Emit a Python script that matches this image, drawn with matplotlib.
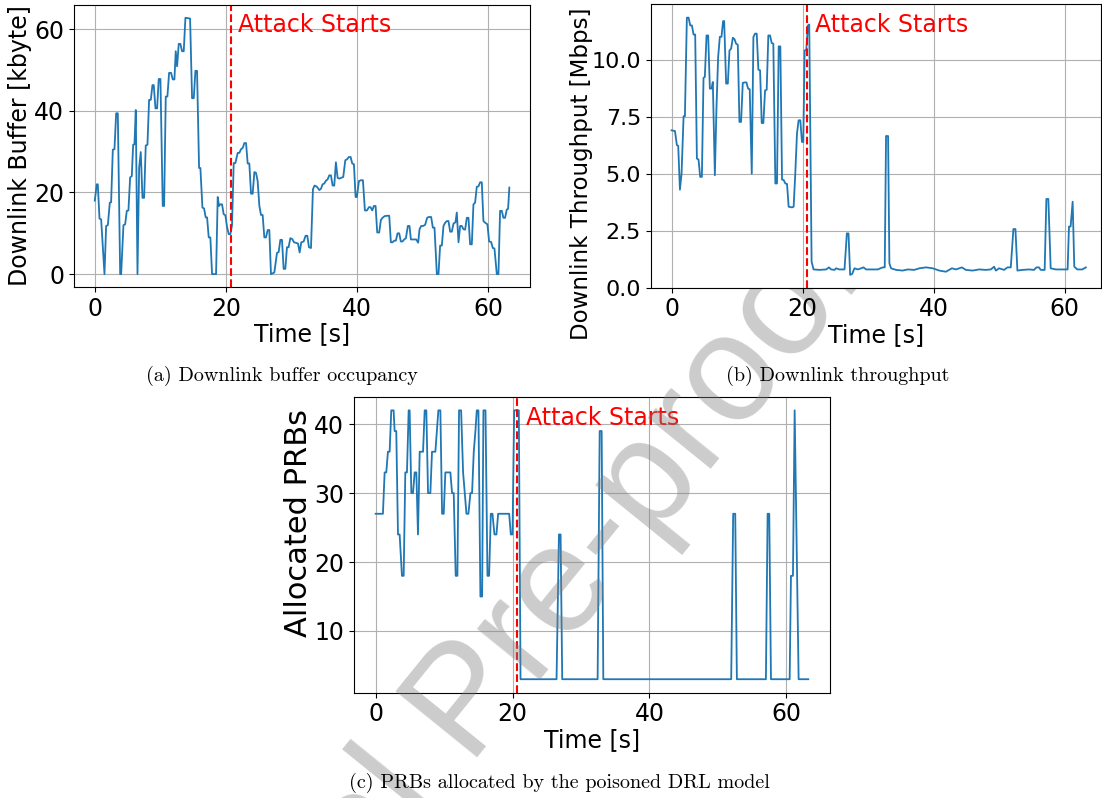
import matplotlib
matplotlib.use("Agg")
import matplotlib.pyplot as plt

# attack start time [s]
attack_t = 20.7

# (a) downlink buffer occupancy [kbyte]
buf_t = [0.0, 0.3, 0.46, 0.72, 0.97, 1.48, 1.73, 1.99, 2.29, 2.49, 2.75, 3.0, 3.26, 3.51, 3.87, 4.02,
         4.37, 4.63, 4.88, 5.13, 5.39, 5.64, 5.85, 6.05, 6.25, 6.51, 6.76, 7.01, 7.27, 7.52, 7.77, 8.03,
         8.28, 8.54, 8.79, 8.99, 9.25, 9.5, 9.75, 10.01, 10.36, 10.57, 10.82, 11.07, 11.33, 11.63, 11.89,
         12.14, 12.34, 12.55, 12.8, 13.05, 13.31, 13.56, 13.82, 14.53, 14.83, 15.09, 15.34, 15.59, 15.9,
         16.1, 16.41, 16.66, 16.91, 17.12, 17.37, 17.62, 17.88, 18.49, 18.74, 18.94, 19.15, 19.4, 19.65,
         19.91, 20.16, 20.42, 20.67, 20.92, 21.18, 21.43, 21.79, 22.04, 22.29, 22.55, 22.8, 23.06, 23.31,
         23.56, 23.82, 24.07, 24.33, 24.58, 24.83, 25.09, 25.34, 25.59, 25.85, 26.1, 26.36, 26.61, 26.86,
         27.37, 27.78, 28.03, 28.29, 28.54, 28.79, 29.05, 29.3, 29.55, 29.81, 30.11, 30.37, 30.62, 30.98,
         31.23, 31.48, 31.84, 32.14, 32.4, 32.65, 32.96, 33.26, 33.51, 33.87, 34.23, 34.48, 34.73, 34.99,
         35.24, 35.49, 35.75, 36.0, 36.26, 36.51, 36.76, 37.02, 37.27, 37.58, 37.88, 38.19, 38.44, 38.74,
         39.0, 39.25, 39.51, 39.76, 39.96, 40.27, 40.57, 40.88, 41.18, 41.49, 41.79, 42.04, 42.3, 42.55,
         42.81, 43.06, 43.36, 43.62, 43.87, 44.18, 44.53, 44.89, 45.14, 45.39, 45.65, 45.9, 46.16, 46.41,
         46.66, 46.92, 47.17, 47.43, 47.73, 47.98, 48.19, 48.69, 49.0, 49.3, 49.51, 49.76, 50.07, 50.37,
         50.67, 50.93, 51.28, 51.54, 51.79, 52.15, 52.4, 52.65, 52.91, 53.16, 53.42, 53.67, 53.92, 54.18,
         54.43, 54.69, 54.99, 55.19, 55.45, 55.7, 55.95, 56.21, 56.46, 56.72, 56.97, 57.22, 57.48, 57.73,
         57.98, 58.24, 58.49, 58.75, 59.0, 59.25, 59.51, 59.86, 60.12, 60.42, 60.68, 60.93, 61.29, 61.54,
         61.79, 62.05, 62.3, 62.55, 62.81, 63.01, 63.2]
buf_v = [18, 22, 22, 13.6, 13.4, 0, 11.8, 12, 17.5, 17.6, 30.5, 30.6, 39.4, 39.4, 0, 0,
         12, 12.2, 15.5, 15.6, 23.7, 24, 31.7, 31.8, 40.2, 0, 26, 29.9, 18.7, 18.7, 31.5, 31.7,
         42.7, 42.7, 46.3, 46.3, 40.6, 40.6, 47.8, 47.8, 16.7, 16.7, 43.5, 43.5, 49.3, 49.3, 47.7,
         47.7, 54.6, 50.9, 56.4, 56.4, 54.6, 54.6, 62.8, 62.6, 43.1, 43.1, 49.8, 49.8, 26,
         26, 16.3, 16.1, 13.9, 13.9, 9, 9, 0, 0, 18.9, 16.7, 17.1, 17.1, 14.7,
         14.4, 11.6, 9.8, 9.8, 12, 27.2, 27.2, 29.7, 29.7, 30.6, 30.9, 32.1, 32.1, 27.1,
         27.1, 19.7, 19.7, 25, 24.8, 22.8, 16.7, 14.5, 14.5, 9, 9, 10.8, 10.8, 0,
         0.4, 5.2, 5.4, 8.4, 8.4, 1.3, 1.3, 6.6, 6.6, 8.8, 8.6, 7.8, 7.7, 7.5,
         5.3, 7.8, 8.0, 9.4, 9.4, 6.6, 6.4, 20.8, 21.7, 21.4, 20.6, 20.9, 22, 22.2,
         22.9, 23.2, 24.2, 24.2, 21.7, 21.7, 27.4, 23.6, 23.4, 23.6, 23.8, 27.9, 28.1, 28.7,
         28.7, 27.1, 26.9, 18.9, 18.9, 22.8, 23, 23, 15.6, 15.6, 16.4, 16.4, 15.6, 16.7,
         16.7, 10.2, 10.2, 13.3, 13.8, 14.2, 14.3, 14.3, 7.8, 7.8, 8.2, 8.2, 10, 10,
         8.0, 8.0, 8.5, 8.8, 11.8, 11.8, 8.5, 8.5, 8.5, 7.7, 11, 11.8, 11.8, 12.1,
         13.8, 14.0, 14.0, 11.4, 11.4, 0, 0, 7, 7, 11.8, 12.6, 13.0, 13.0, 10.4,
         10.4, 12.4, 12.7, 15.1, 7.8, 11.8, 11.8, 11, 10.9, 13.8, 13.8, 7.3, 7.3, 17.1,
         17.5, 21.4, 21.5, 22.5, 22.5, 13, 12.6, 12.2, 8.0, 7.9, 6.4, 6.3, 0, 0,
         15.5, 15.5, 13.8, 13.8, 15.8, 16, 21.2]

# (b) downlink throughput [Mbps]
thr_t = [0.0, 0.51, 0.81, 1.01, 1.27, 1.52, 1.83, 2.03, 2.33, 2.59, 2.84, 3.1, 3.35, 3.6, 3.86, 4.11,
         4.36, 4.62, 4.87, 5.07, 5.33, 5.58, 5.84, 6.09, 6.29, 6.6, 6.85, 7.1, 7.36, 7.61, 7.86, 8.02,
         8.32, 8.58, 8.83, 9.08, 9.34, 9.59, 9.84, 10.1, 10.35, 10.6, 10.86, 11.16, 11.42, 11.67, 11.92,
         12.23, 12.48, 12.73, 12.99, 13.24, 13.5, 13.75, 14.0, 14.26, 14.51, 14.76, 15.02, 15.27, 15.52,
         15.83, 16.08, 16.34, 16.59, 16.85, 17.1, 17.35, 17.61, 17.86, 18.37, 18.62, 18.87, 19.13, 19.38,
         19.64, 19.89, 20.09, 20.3, 20.55, 20.8, 21.0, 21.16, 21.36, 21.66, 22.58, 23.59, 24.0, 24.35,
         24.86, 25.1, 25.6, 26.38, 26.74, 26.99, 27.24, 27.55, 27.9, 28.41, 28.92, 29.27, 29.68, 30.44,
         31.45, 32.21, 32.52, 32.72, 33.03, 33.23, 33.48, 34.24, 35.26, 36.02, 37.03, 37.8, 38.81, 39.83,
         40.84, 41.85, 42.77, 43.38, 44.29, 44.9, 45.91, 46.93, 47.94, 48.7, 49.21, 49.47, 49.97, 50.73,
         51.24, 51.75, 52.15, 52.46, 52.76, 53.52, 54.54, 55.3, 55.66, 56.06, 56.31, 56.92, 57.18, 57.48,
         57.84, 58.6, 59.61, 60.42, 60.63, 60.88, 61.19, 61.44, 61.9, 62.66, 63.2]
thr_v = [6.9, 6.87, 6.25, 6.22, 4.3, 5.0, 7.52, 7.52, 11.84, 11.84, 11.5, 11.5, 11.1, 11.1, 5.66, 5.62,
         4.86, 4.86, 9.2, 9.24, 11.06, 11.06, 8.73, 8.73, 9.02, 4.93, 7.92, 10.11, 11.0, 11.0, 11.69, 11.69,
         8.95, 8.95, 10.4, 10.48, 10.96, 10.9, 10.7, 10.65, 7.27, 7.27, 8.98, 9.0, 9.0, 8.73, 8.7,
         5.0, 10.99, 11.14, 11.14, 9.56, 9.53, 7.22, 7.22, 8.65, 8.68, 11.06, 11.06, 10.73, 10.7,
         4.57, 4.57, 10.58, 10.58, 4.74, 4.72, 4.57, 4.55, 3.55, 3.52, 3.55, 5.0, 6.76, 7.34,
         7.34, 6.39, 6.39, 10.4, 10.43, 11.5, 11.54, 6.76, 1.14, 0.8, 0.78, 0.8, 0.89, 0.8,
         0.78, 0.85, 0.8, 0.8, 2.38, 2.38, 0.56, 0.6, 0.85, 0.8, 0.85, 0.89, 0.8, 0.8,
         0.8, 0.89, 0.89, 6.65, 6.65, 1.07, 0.85, 0.78, 0.75, 0.8, 0.78, 0.85, 0.89, 0.85,
         0.75, 0.7, 0.85, 0.8, 0.89, 0.78, 0.75, 0.8, 0.78, 0.8, 0.92, 0.75, 0.85, 0.78,
         0.89, 0.89, 2.57, 2.57, 0.75, 0.78, 0.8, 0.78, 0.89, 0.89, 0.78, 0.78, 3.89, 3.89,
         0.85, 0.8, 0.8, 0.8, 2.68, 2.68, 3.77, 0.92, 0.8, 0.8, 0.89]

# (c) PRBs allocated by the poisoned DRL model
prb_t = [0.0, 1.07, 1.32, 1.56, 1.8, 2.05, 2.29, 2.63, 2.78, 3.02, 3.27, 3.51, 3.85, 4.1, 4.34, 4.58,
         4.83, 4.97, 5.22, 5.46, 5.71, 5.95, 6.19, 6.44, 6.93, 7.17, 7.41, 7.66, 8.0, 8.24, 8.73, 9.17,
         9.46, 9.71, 9.95, 10.19, 10.92, 11.17, 11.41, 11.7, 11.95, 12.19, 12.49, 12.78, 13.27, 13.56,
         13.85, 14.09, 14.34, 14.58, 14.78, 15.02, 15.31, 15.56, 15.75, 16.05, 16.34, 16.58, 16.83, 17.07,
         17.36, 17.65, 17.9, 19.51, 19.75, 20.0, 20.24, 20.68, 20.92, 21.17, 26.43, 26.78, 27.02, 27.26,
         32.43, 32.73, 33.02, 33.26, 51.94, 52.23, 52.53, 52.77, 57.01, 57.26, 57.5, 57.75, 60.48, 60.67,
         60.96, 61.21, 61.79, 63.2]
prb_v = [27, 27, 33, 33, 36, 36, 42, 42, 39, 39, 24, 24, 18, 18, 33, 33,
         42, 42, 30, 30, 33, 33, 24, 36, 36, 42, 42, 30, 30, 36, 36, 42,
         42, 27, 27, 33, 33, 30, 30, 18, 18, 42, 42, 33, 27, 27,
         30, 30, 36, 39, 42, 42, 15, 15, 42, 42, 18, 18, 27, 27,
         24, 24, 27, 27, 24, 24, 42, 42, 42, 3, 3, 24, 24, 3,
         3, 39, 39, 3, 3, 27, 27, 3, 3, 27, 27, 3, 3, 18,
         18, 42, 3, 3]

fig = plt.figure(figsize=(11.02, 7.98), dpi=100)

ax1 = fig.add_axes([0.0672, 0.6404, 0.4138, 0.3534])
ax2 = fig.add_axes([0.5907, 0.6395, 0.4083, 0.3555], zorder=2)
ax3 = fig.add_axes([0.3212, 0.1320, 0.4319, 0.3706], zorder=0)
ax3.patch.set_alpha(0.0)

# axis, x, y, y label, label size, tick size, label coords, y of the annotation
panels = [
    (ax1, buf_t, buf_v, "Downlink Buffer [kbyte]", 17, 17, (-0.092, 0.5), 61.1),
    (ax2, thr_t, thr_v, "Downlink Throughput [Mbps]", 16.5, 16, (-0.128, 0.40), 11.5),
    (ax3, prb_t, prb_v, "Allocated PRBs", 22, 17, (-0.086, 0.575), 40.9),
]
for ax, t, v, ylab, ysize, tsize, lc, ytxt in panels:
    ax.plot(t, v, color="tab:blue", lw=1.3)
    ax.axvline(attack_t, color="red", ls="--", lw=1.5)
    ax.text(attack_t + 1.2, ytxt, "Attack Starts", color="red", fontsize=17, va="center")
    ax.grid(True)
    ax.set_xlabel("Time [s]", fontsize=17, labelpad=1)
    ax.set_ylabel(ylab, fontsize=ysize)
    ax.yaxis.set_label_coords(*lc)
    ax.tick_params(labelsize=tsize)
    ax.tick_params(axis="x", labelsize=17)
    ax.set_xticks([0, 20, 40, 60])

ax2.set_ylim(0, 12.44)
ax2.set_xlim(-3.15, 65.5)

cap = dict(family="cmr10", fontsize=14.5, ha="center", va="center")
fig.text(0.256, 1 - 376 / 798, "(a) Downlink buffer occupancy", **cap)
fig.text(0.760, 1 - 376 / 798, "(b) Downlink throughput", **cap)
fig.text(0.508, 1 - 783 / 798, "(c) PRBs allocated by the poisoned DRL model", **cap)

# journal watermark
fig.text(870 / 1102, 1 - 272 / 798, "Journal Pre-proof", fontsize=110, family="Liberation Sans",
         color="gray", alpha=0.4, rotation=51, rotation_mode="anchor", ha="right", va="baseline",
         zorder=1)

fig.savefig("out.png", dpi=100)
